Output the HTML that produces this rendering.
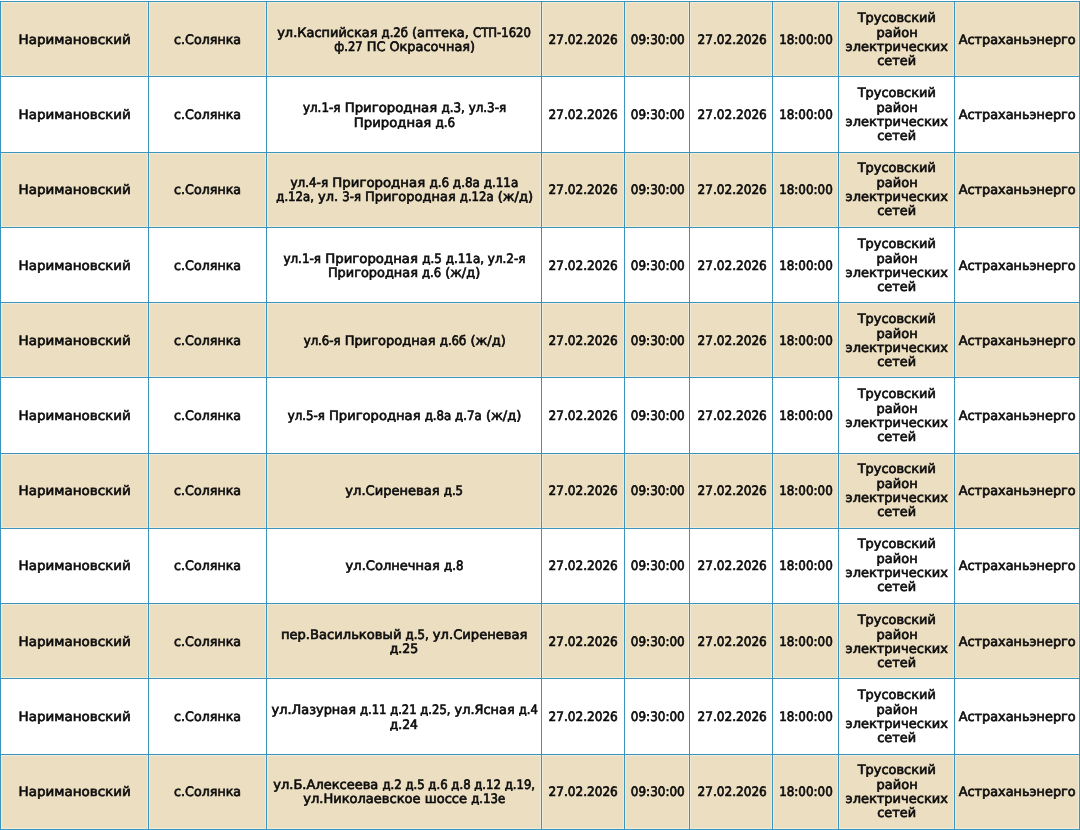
<!DOCTYPE html><html lang="ru"><head><meta charset="utf-8"><title>Отключения</title><style>
html,body{margin:0;padding:0;background:#fff;}
body{width:1080px;height:830px;overflow:hidden;position:relative;}
table{position:absolute;left:0;top:1px;border-collapse:separate;border-spacing:0;table-layout:fixed;width:1080px;
 border-left:1px solid #3a94bc;border-top:1px solid #3a94bc;}
td{box-sizing:border-box;border-right:1px solid #3a94bc;border-bottom:1px solid #3a94bc;padding:4px 0 0 0;text-align:center;vertical-align:middle;
 font-family:"DejaVu Sans","Liberation Sans",sans-serif;font-size:13px;font-weight:400;line-height:14.43px;color:#0c0c0c;
 -webkit-text-stroke:0.65px #0c0c0c;white-space:nowrap;overflow:hidden;text-rendering:geometricPrecision;}
tr.o td{background:#ecdec1;box-shadow:inset 0 0 0 1px #f0ead9;}
td.v{padding-top:3px;}
tr.u td{padding-top:2px;}
td span{display:block;}
td span b{display:inline-block;font-weight:400;}
i{font-style:normal;font-family:"DejaVu Sans Condensed","DejaVu Sans","Liberation Sans",sans-serif;}
</style></head><body><table><colgroup>
<col style="width:148px">
<col style="width:118px">
<col style="width:275px">
<col style="width:83px">
<col style="width:65px">
<col style="width:83px">
<col style="width:66px">
<col style="width:116px">
<col style="width:125px">
</colgroup><tbody>
<tr class="o" style="height:75px"><td class="c1"><span><b style="transform:translateX(0.5px) scaleX(1.037)">Наримановский</b></span></td><td class="c2"><span><b style="transform:translateX(0.2px) scaleX(0.975)">с.Солянка</b></span></td><td class="c3"><span><b style="transform:translateX(-0.3px) scaleX(0.996)">ул.Каспийская <i>д.2б</i> (аптека, <i>СТП-1620</i></b></span><span><b style="transform:translateX(0.6px) scaleX(0.99)"><i>ф.27</i> ПС Окрасочная)</b></span></td><td class="c4"><span><b style="transform:translateX(-0.3px) scaleX(1.035)"><i>27.02.2026</i></b></span></td><td class="c5"><span><b style="transform:translateX(0.5px) scaleX(1.026)"><i>09:30:00</i></b></span></td><td class="c6"><span><b style="transform:translateX(0.7px) scaleX(1.035)"><i>27.02.2026</i></b></span></td><td class="c7"><span><b style="transform:translateX(0.7px) scaleX(1.02)"><i>18:00:00</i></b></span></td><td class="c8"><span><b style="transform:translateX(0.5px) scaleX(0.995)">Трусовский</b></span><span><b style="transform:translateX(0.6px)">район</b></span><span><b style="transform:translateX(0.2px)">электрических</b></span><span><b style="transform:translateX(0.1px) scaleX(0.99)">сетей</b></span></td><td class="c9"><span><b style="transform:scaleX(0.989)">Астраханьэнерго</b></span></td></tr>
<tr style="height:76px"><td class="c1"><span><b style="transform:translateX(0.5px) scaleX(1.037)">Наримановский</b></span></td><td class="c2"><span><b style="transform:translateX(0.2px) scaleX(0.975)">с.Солянка</b></span></td><td class="c3"><span><b style="transform:translateX(0.9px) scaleX(1.02)"><i>ул.1-я</i> Пригородная <i>д.3, ул.3-я</i></b></span><span><b style="transform:translateX(0.8px) scaleX(1.019)">Природная <i>д.6</i></b></span></td><td class="c4"><span><b style="transform:translateX(-0.3px) scaleX(1.035)"><i>27.02.2026</i></b></span></td><td class="c5"><span><b style="transform:translateX(0.5px) scaleX(1.026)"><i>09:30:00</i></b></span></td><td class="c6"><span><b style="transform:translateX(0.7px) scaleX(1.035)"><i>27.02.2026</i></b></span></td><td class="c7"><span><b style="transform:translateX(0.7px) scaleX(1.02)"><i>18:00:00</i></b></span></td><td class="c8 v"><span><b style="transform:translateX(0.5px) scaleX(0.995)">Трусовский</b></span><span><b style="transform:translateX(0.6px)">район</b></span><span><b style="transform:translateX(0.2px)">электрических</b></span><span><b style="transform:translateX(0.1px) scaleX(0.99)">сетей</b></span></td><td class="c9"><span><b style="transform:scaleX(0.989)">Астраханьэнерго</b></span></td></tr>
<tr class="o u" style="height:75px"><td class="c1"><span><b style="transform:translateX(0.5px) scaleX(1.037)">Наримановский</b></span></td><td class="c2"><span><b style="transform:translateX(0.2px) scaleX(0.975)">с.Солянка</b></span></td><td class="c3"><span><b style="transform:scaleX(1.023)"><i>ул.4-я</i> Пригородная <i>д.6 д.8а д.11а</i></b></span><span><b style="transform:translateX(0.2px) scaleX(0.999)"><i>д.12а,</i> ул. <i>3-я</i> Пригородная <i>д.12а</i> (ж/д)</b></span></td><td class="c4"><span><b style="transform:translateX(-0.3px) scaleX(1.035)"><i>27.02.2026</i></b></span></td><td class="c5"><span><b style="transform:translateX(0.5px) scaleX(1.026)"><i>09:30:00</i></b></span></td><td class="c6"><span><b style="transform:translateX(0.7px) scaleX(1.035)"><i>27.02.2026</i></b></span></td><td class="c7"><span><b style="transform:translateX(0.7px) scaleX(1.02)"><i>18:00:00</i></b></span></td><td class="c8"><span><b style="transform:translateX(0.5px) scaleX(0.995)">Трусовский</b></span><span><b style="transform:translateX(0.6px)">район</b></span><span><b style="transform:translateX(0.2px)">электрических</b></span><span><b style="transform:translateX(0.1px) scaleX(0.99)">сетей</b></span></td><td class="c9"><span><b style="transform:scaleX(0.989)">Астраханьэнерго</b></span></td></tr>
<tr style="height:75px"><td class="c1"><span><b style="transform:translateX(0.5px) scaleX(1.037)">Наримановский</b></span></td><td class="c2"><span><b style="transform:translateX(0.2px) scaleX(0.975)">с.Солянка</b></span></td><td class="c3"><span><b style="transform:scaleX(1.022)"><i>ул.1-я</i> Пригородная <i>д.5 д.11а, ул.2-я</i></b></span><span><b style="transform:translateX(0.3px) scaleX(0.992)">Пригородная <i>д.6</i> (ж/д)</b></span></td><td class="c4"><span><b style="transform:translateX(-0.3px) scaleX(1.035)"><i>27.02.2026</i></b></span></td><td class="c5"><span><b style="transform:translateX(0.5px) scaleX(1.026)"><i>09:30:00</i></b></span></td><td class="c6"><span><b style="transform:translateX(0.7px) scaleX(1.035)"><i>27.02.2026</i></b></span></td><td class="c7"><span><b style="transform:translateX(0.7px) scaleX(1.02)"><i>18:00:00</i></b></span></td><td class="c8"><span><b style="transform:translateX(0.5px) scaleX(0.995)">Трусовский</b></span><span><b style="transform:translateX(0.6px)">район</b></span><span><b style="transform:translateX(0.2px)">электрических</b></span><span><b style="transform:translateX(0.1px) scaleX(0.99)">сетей</b></span></td><td class="c9"><span><b style="transform:scaleX(0.989)">Астраханьэнерго</b></span></td></tr>
<tr class="o" style="height:75px"><td class="c1"><span><b style="transform:translateX(0.5px) scaleX(1.037)">Наримановский</b></span></td><td class="c2"><span><b style="transform:translateX(0.2px) scaleX(0.975)">с.Солянка</b></span></td><td class="c3"><span><b style="transform:translateX(0.9px) scaleX(1.002)"><i>ул.6-я</i> Пригородная <i>д.6б</i> (ж/д)</b></span></td><td class="c4"><span><b style="transform:translateX(-0.3px) scaleX(1.035)"><i>27.02.2026</i></b></span></td><td class="c5"><span><b style="transform:translateX(0.5px) scaleX(1.026)"><i>09:30:00</i></b></span></td><td class="c6"><span><b style="transform:translateX(0.7px) scaleX(1.035)"><i>27.02.2026</i></b></span></td><td class="c7"><span><b style="transform:translateX(0.7px) scaleX(1.02)"><i>18:00:00</i></b></span></td><td class="c8"><span><b style="transform:translateX(0.5px) scaleX(0.995)">Трусовский</b></span><span><b style="transform:translateX(0.6px)">район</b></span><span><b style="transform:translateX(0.2px)">электрических</b></span><span><b style="transform:translateX(0.1px) scaleX(0.99)">сетей</b></span></td><td class="c9"><span><b style="transform:scaleX(0.989)">Астраханьэнерго</b></span></td></tr>
<tr style="height:76px"><td class="c1"><span><b style="transform:translateX(0.5px) scaleX(1.037)">Наримановский</b></span></td><td class="c2"><span><b style="transform:translateX(0.2px) scaleX(0.975)">с.Солянка</b></span></td><td class="c3"><span><b style="transform:translateX(0.7px) scaleX(1.009)"><i>ул.5-я</i> Пригородная <i>д.8а д.7а</i> (ж/д)</b></span></td><td class="c4"><span><b style="transform:translateX(-0.3px) scaleX(1.035)"><i>27.02.2026</i></b></span></td><td class="c5"><span><b style="transform:translateX(0.5px) scaleX(1.026)"><i>09:30:00</i></b></span></td><td class="c6"><span><b style="transform:translateX(0.7px) scaleX(1.035)"><i>27.02.2026</i></b></span></td><td class="c7"><span><b style="transform:translateX(0.7px) scaleX(1.02)"><i>18:00:00</i></b></span></td><td class="c8 v"><span><b style="transform:translateX(0.5px) scaleX(0.995)">Трусовский</b></span><span><b style="transform:translateX(0.6px)">район</b></span><span><b style="transform:translateX(0.2px)">электрических</b></span><span><b style="transform:translateX(0.1px) scaleX(0.99)">сетей</b></span></td><td class="c9"><span><b style="transform:scaleX(0.989)">Астраханьэнерго</b></span></td></tr>
<tr class="o u" style="height:75px"><td class="c1"><span><b style="transform:translateX(0.5px) scaleX(1.037)">Наримановский</b></span></td><td class="c2"><span><b style="transform:translateX(0.2px) scaleX(0.975)">с.Солянка</b></span></td><td class="c3"><span><b style="transform:translateX(0.6px) scaleX(1.004)">ул.Сиреневая <i>д.5</i></b></span></td><td class="c4"><span><b style="transform:translateX(-0.3px) scaleX(1.035)"><i>27.02.2026</i></b></span></td><td class="c5"><span><b style="transform:translateX(0.5px) scaleX(1.026)"><i>09:30:00</i></b></span></td><td class="c6"><span><b style="transform:translateX(0.7px) scaleX(1.035)"><i>27.02.2026</i></b></span></td><td class="c7"><span><b style="transform:translateX(0.7px) scaleX(1.02)"><i>18:00:00</i></b></span></td><td class="c8"><span><b style="transform:translateX(0.5px) scaleX(0.995)">Трусовский</b></span><span><b style="transform:translateX(0.6px)">район</b></span><span><b style="transform:translateX(0.2px)">электрических</b></span><span><b style="transform:translateX(0.1px) scaleX(0.99)">сетей</b></span></td><td class="c9"><span><b style="transform:scaleX(0.989)">Астраханьэнерго</b></span></td></tr>
<tr class="u" style="height:75px"><td class="c1"><span><b style="transform:translateX(0.5px) scaleX(1.037)">Наримановский</b></span></td><td class="c2"><span><b style="transform:translateX(0.2px) scaleX(0.975)">с.Солянка</b></span></td><td class="c3"><span><b style="transform:translateX(0.8px) scaleX(1.004)">ул.Солнечная <i>д.8</i></b></span></td><td class="c4"><span><b style="transform:translateX(-0.3px) scaleX(1.035)"><i>27.02.2026</i></b></span></td><td class="c5"><span><b style="transform:translateX(0.5px) scaleX(1.026)"><i>09:30:00</i></b></span></td><td class="c6"><span><b style="transform:translateX(0.7px) scaleX(1.035)"><i>27.02.2026</i></b></span></td><td class="c7"><span><b style="transform:translateX(0.7px) scaleX(1.02)"><i>18:00:00</i></b></span></td><td class="c8"><span><b style="transform:translateX(0.5px) scaleX(0.995)">Трусовский</b></span><span><b style="transform:translateX(0.6px)">район</b></span><span><b style="transform:translateX(0.2px)">электрических</b></span><span><b style="transform:translateX(0.1px) scaleX(0.99)">сетей</b></span></td><td class="c9"><span><b style="transform:scaleX(0.989)">Астраханьэнерго</b></span></td></tr>
<tr class="o" style="height:75px"><td class="c1"><span><b style="transform:translateX(0.5px) scaleX(1.037)">Наримановский</b></span></td><td class="c2"><span><b style="transform:translateX(0.2px) scaleX(0.975)">с.Солянка</b></span></td><td class="c3"><span><b style="transform:translateX(-0.1px) scaleX(1.008)">пер.Васильковый <i>д.5,</i> ул.Сиреневая</b></span><span><b style="transform:translateX(-0.4px) scaleX(1.069)"><i>д.25</i></b></span></td><td class="c4"><span><b style="transform:translateX(-0.3px) scaleX(1.035)"><i>27.02.2026</i></b></span></td><td class="c5"><span><b style="transform:translateX(0.5px) scaleX(1.026)"><i>09:30:00</i></b></span></td><td class="c6"><span><b style="transform:translateX(0.7px) scaleX(1.035)"><i>27.02.2026</i></b></span></td><td class="c7"><span><b style="transform:translateX(0.7px) scaleX(1.02)"><i>18:00:00</i></b></span></td><td class="c8"><span><b style="transform:translateX(0.5px) scaleX(0.995)">Трусовский</b></span><span><b style="transform:translateX(0.6px)">район</b></span><span><b style="transform:translateX(0.2px)">электрических</b></span><span><b style="transform:translateX(0.1px) scaleX(0.99)">сетей</b></span></td><td class="c9"><span><b style="transform:scaleX(0.989)">Астраханьэнерго</b></span></td></tr>
<tr style="height:76px"><td class="c1"><span><b style="transform:translateX(0.5px) scaleX(1.037)">Наримановский</b></span></td><td class="c2"><span><b style="transform:translateX(0.2px) scaleX(0.975)">с.Солянка</b></span></td><td class="c3"><span><b style="transform:translateX(0.5px) scaleX(0.992)">ул.Лазурная <i>д.11 д.21 д.25,</i> ул.Ясная <i>д.4</i></b></span><span><b style="transform:translateX(-0.5px) scaleX(1.06)"><i>д.24</i></b></span></td><td class="c4"><span><b style="transform:translateX(-0.3px) scaleX(1.035)"><i>27.02.2026</i></b></span></td><td class="c5"><span><b style="transform:translateX(0.5px) scaleX(1.026)"><i>09:30:00</i></b></span></td><td class="c6"><span><b style="transform:translateX(0.7px) scaleX(1.035)"><i>27.02.2026</i></b></span></td><td class="c7"><span><b style="transform:translateX(0.7px) scaleX(1.02)"><i>18:00:00</i></b></span></td><td class="c8 v"><span><b style="transform:translateX(0.5px) scaleX(0.995)">Трусовский</b></span><span><b style="transform:translateX(0.6px)">район</b></span><span><b style="transform:translateX(0.2px)">электрических</b></span><span><b style="transform:translateX(0.1px) scaleX(0.99)">сетей</b></span></td><td class="c9"><span><b style="transform:scaleX(0.989)">Астраханьэнерго</b></span></td></tr>
<tr class="o u" style="height:75px"><td class="c1"><span><b style="transform:translateX(0.5px) scaleX(1.037)">Наримановский</b></span></td><td class="c2"><span><b style="transform:translateX(0.2px) scaleX(0.975)">с.Солянка</b></span></td><td class="c3"><span><b style="transform:translateX(0.2px) scaleX(1.0)">ул.Б.Алексеева <i>д.2 д.5 д.6 д.8 д.12 д.19,</i></b></span><span><b style="transform:translateX(0.5px) scaleX(1.003)">ул.Николаевское шоссе <i>д.13е</i></b></span></td><td class="c4"><span><b style="transform:translateX(-0.3px) scaleX(1.035)"><i>27.02.2026</i></b></span></td><td class="c5"><span><b style="transform:translateX(0.5px) scaleX(1.026)"><i>09:30:00</i></b></span></td><td class="c6"><span><b style="transform:translateX(0.7px) scaleX(1.035)"><i>27.02.2026</i></b></span></td><td class="c7"><span><b style="transform:translateX(0.7px) scaleX(1.02)"><i>18:00:00</i></b></span></td><td class="c8"><span><b style="transform:translateX(0.5px) scaleX(0.995)">Трусовский</b></span><span><b style="transform:translateX(0.6px)">район</b></span><span><b style="transform:translateX(0.2px)">электрических</b></span><span><b style="transform:translateX(0.1px) scaleX(0.99)">сетей</b></span></td><td class="c9"><span><b style="transform:scaleX(0.989)">Астраханьэнерго</b></span></td></tr>
</tbody></table></body></html>
